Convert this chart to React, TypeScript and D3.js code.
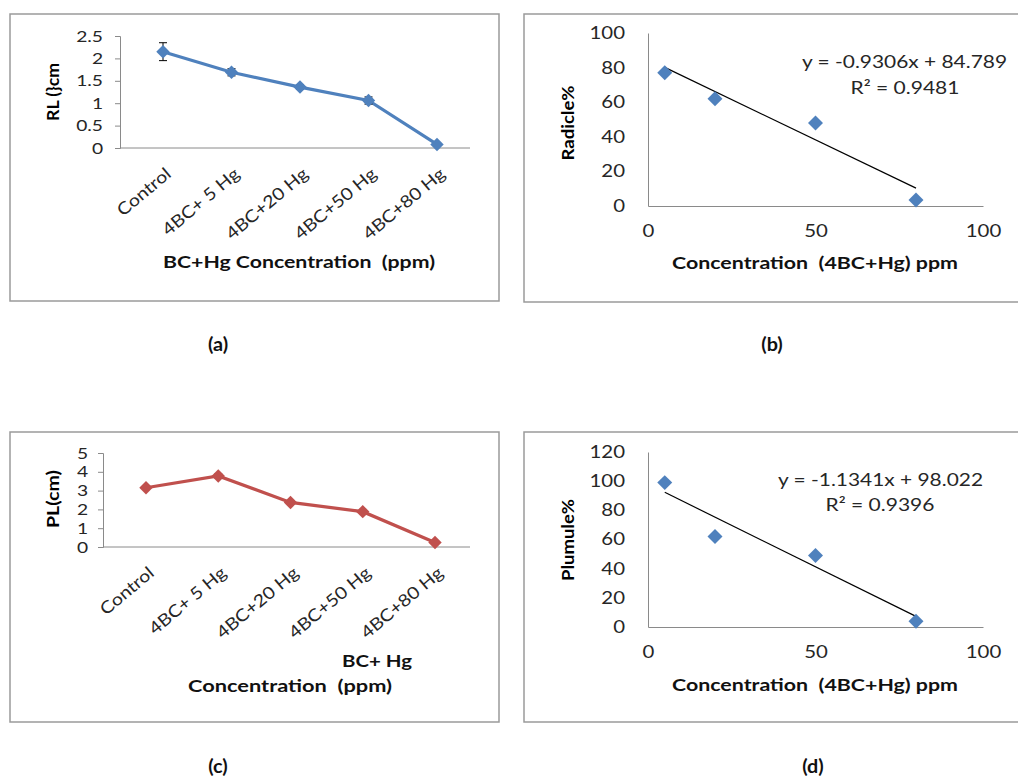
import React, { useEffect, useRef } from 'react';
import * as d3 from 'd3';

// treatments shared by the line panels
const categories = ['Control', '4BC+ 5 Hg', '4BC+20 Hg', '4BC+50 Hg', '4BC+80 Hg'];

// (a) radicle length, cm
const rlValues = [2.15, 1.69, 1.36, 1.06, 0.08];
const rlErrors = [0.2, 0.08, 0.05, 0.08, 0.03];
const rlTicks = [0, 0.5, 1, 1.5, 2, 2.5];

// (c) plumule length, cm
const plValues = [3.15, 3.78, 2.37, 1.88, 0.24];
const plErrors = [0.08, 0.1, 0.06, 0.06, 0.05];
const plTicks = [0, 1, 2, 3, 4, 5];

// (b) / (d) scatter: Hg concentration vs inhibition %
const concentrations = [5, 20, 50, 80];
const radiclePct = [77, 62, 48, 3.5];
const plumulePct = [99, 62, 49, 4];
const xTicks = [0, 50, 100];
const radicleTicks = [0, 20, 40, 60, 80, 100];
const plumuleTicks = [0, 20, 40, 60, 80, 100, 120];
const radicleFit = { slope: -0.9306, intercept: 84.789, r2: '0.9481' };
const plumuleFit = { slope: -1.1341, intercept: 98.022, r2: '0.9396' };

const FONT = 'Lato, "Liberation Sans", sans-serif';
const TEXT = '#262626';
const AXIS = '#8a8a8a';

// widen text like the stretched original (calibri-ish, wider than lato)
function stretch(sel, sx, target?) {
    sel.each(function () {
        const len = target || this.getComputedTextLength() * sx;
        d3.select(this).attr('textLength', len).attr('lengthAdjust', 'spacingAndGlyphs');
    });
}

function label(g, x, y, str, size, bold, anchor) {
    return g.append('text').attr('x', x).attr('y', y).attr('text-anchor', anchor || 'middle')
        .attr('font-family', FONT).attr('font-weight', bold ? 'bold' : 'normal')
        .attr('font-size', size).attr('fill', bold ? '#111' : TEXT)
        .style('white-space', 'pre').text(str);
}

function diamond(g, x, y, size, color) {
    g.append('path')
        .attr('d', d3.symbol(d3.symbolSquare, size)())
        .attr('transform', 'translate(' + x + ',' + y + ') rotate(45)')
        .attr('fill', color);
}

function drawLinePanel(svg, o) {
    const g = svg.append('g');
    g.append('rect').attr('x', o.box[0]).attr('y', o.box[1])
        .attr('width', o.box[2]).attr('height', o.box[3])
        .attr('fill', 'none').attr('stroke', '#9a9a9a').attr('stroke-width', 1.5);

    const x = d3.scalePoint().domain(categories).range(o.xRange);
    const y = d3.scaleLinear().domain(o.yDomain).range(o.yRange);

    g.append('line').attr('x1', o.axisX).attr('x2', o.axisEnd)
        .attr('y1', y(0)).attr('y2', y(0)).attr('stroke', AXIS);

    const ya = g.append('g').attr('transform', 'translate(' + o.axisX + ',0)')
        .call(d3.axisLeft(y).tickValues(o.ticks).tickSize(5).tickPadding(o.pad).tickFormat(d => String(d)));
    ya.selectAll('path,line').attr('stroke', AXIS);
    ya.selectAll('text').attr('font-family', FONT).attr('font-size', 16).attr('fill', TEXT);
    stretch(ya.selectAll('text'), 1.2);

    categories.forEach(c => {
        const t = g.append('text')
            .attr('transform', 'translate(' + (x(c) + 1) + ',' + (y(0) + 18) + ') rotate(-40)')
            .attr('text-anchor', 'end').attr('dy', '0.75em')
            .attr('font-family', FONT).attr('font-size', 17).attr('fill', TEXT)
            .text(c);
        stretch(t, 1.15);
    });

    const line = d3.line().x((d, i) => x(categories[i])).y(d => y(d));
    g.append('path').datum(o.values).attr('d', line)
        .attr('fill', 'none').attr('stroke', o.color).attr('stroke-width', 3.2);

    o.values.forEach((v, i) => {
        const cx = x(categories[i]);
        const e = o.errors[i];
        g.append('line').attr('x1', cx).attr('x2', cx).attr('y1', y(v - e)).attr('y2', y(v + e)).attr('stroke', '#000');
        [v - e, v + e].forEach(t => {
            g.append('line').attr('x1', cx - 4).attr('x2', cx + 4).attr('y1', y(t)).attr('y2', y(t)).attr('stroke', '#000');
        });
        diamond(g, cx, y(v), 90, o.color);
    });

    const yt = g.append('text')
        .attr('transform', 'translate(' + o.yTitle[0] + ',' + o.yTitle[1] + ') rotate(-90)')
        .attr('text-anchor', 'middle').attr('font-family', FONT).attr('font-weight', 'bold')
        .attr('font-size', 17).attr('fill', '#000').text(o.yLabel);
    stretch(yt, 1, o.yTitle[2]);

    o.xTitles.forEach(t => {
        stretch(label(g, t[0], t[1], t[2], 17.5, true), 1, t[3]);
    });
}

function drawScatterPanel(svg, o) {
    const g = svg.append('g');
    g.append('rect').attr('x', o.box[0]).attr('y', o.box[1])
        .attr('width', o.box[2]).attr('height', o.box[3])
        .attr('fill', 'none').attr('stroke', '#9a9a9a').attr('stroke-width', 1.5);

    const x = d3.scaleLinear().domain([0, 100]).range([648, 983]);
    const y = d3.scaleLinear().domain(o.yDomain).range(o.yRange);

    const ya = g.append('g').attr('transform', 'translate(648,0)')
        .call(d3.axisLeft(y).tickValues(o.ticks).tickSize(0).tickPadding(23));
    ya.selectAll('path').attr('stroke', AXIS);
    ya.selectAll('text').attr('font-family', FONT).attr('font-size', 17).attr('fill', TEXT);
    stretch(ya.selectAll('text'), 1.2);

    const xa = g.append('g').attr('transform', 'translate(0,' + y(0) + ')')
        .call(d3.axisBottom(x).tickValues(xTicks).tickSize(0).tickPadding(19));
    xa.selectAll('path').attr('stroke', AXIS);
    xa.selectAll('text').attr('font-family', FONT).attr('font-size', 17).attr('fill', TEXT);
    stretch(xa.selectAll('text'), 1.2);

    const x0 = d3.min(concentrations), x1 = d3.max(concentrations);
    g.append('line')
        .attr('x1', x(x0)).attr('y1', y(o.fit.slope * x0 + o.fit.intercept))
        .attr('x2', x(x1)).attr('y2', y(o.fit.slope * x1 + o.fit.intercept))
        .attr('stroke', '#000').attr('stroke-width', 1.2);

    o.values.forEach((v, i) => diamond(g, x(concentrations[i]), y(v), 112, '#4f81bd'));

    const sign = o.fit.slope < 0 ? '-' : '';
    stretch(label(g, o.eq[0], o.eq[1], 'y = ' + sign + Math.abs(o.fit.slope) + 'x + ' + o.fit.intercept, 17.5, false, 'end'), 1, o.eq[2]);
    stretch(label(g, o.r2[0], o.r2[1], 'R² = ' + o.fit.r2, 17.5, false), 1.2);

    const yt = g.append('text')
        .attr('transform', 'translate(' + 574 + ',' + o.yTitleY + ') rotate(-90)')
        .attr('text-anchor', 'middle').attr('font-family', FONT).attr('font-weight', 'bold')
        .attr('font-size', 17).attr('fill', '#000').text(o.yLabel);
    stretch(yt, 1, o.yTitleLen);

    stretch(label(g, 815, o.xTitleY, 'Concentration  (4BC+Hg) ppm', 17.5, true), 1, 286);
}

export default function App() {
    const ref = useRef(null);

    useEffect(() => {
        document.body.style.margin = '0';
        const svg = d3.select(ref.current);
        svg.selectAll('*').remove();

        drawLinePanel(svg, {
            box: [10, 14, 489, 287], xRange: [163, 437], yDomain: [0, 2.5], yRange: [148, 36],
            axisX: 120, axisEnd: 470, ticks: rlTicks, pad: 12,
            values: rlValues, errors: rlErrors, color: '#4f81bd',
            yTitle: [59, 92, 58], yLabel: 'RL (}cm',
            xTitles: [[299, 268, 'BC+Hg Concentration  (ppm)', 272]]
        });

        drawScatterPanel(svg, {
            box: [524, 14, 500, 288], yDomain: [0, 100], yRange: [206, 33], ticks: radicleTicks,
            values: radiclePct, fit: radicleFit, eq: [1007, 68, 205], r2: [905, 94],
            yLabel: 'Radicle%', yTitleY: 123, yTitleLen: 75, xTitleY: 269
        });

        drawLinePanel(svg, {
            box: [10, 432, 489, 290], xRange: [146, 435], yDomain: [0, 5], yRange: [547, 453],
            axisX: 103, axisEnd: 470, ticks: plTicks, pad: 10,
            values: plValues, errors: plErrors, color: '#c0504d',
            yTitle: [59, 499, 58], yLabel: 'PL(cm)',
            xTitles: [[377, 667, 'BC+ Hg', 70], [290, 692, 'Concentration  (ppm)', 204]]
        });

        drawScatterPanel(svg, {
            box: [524, 432, 500, 290], yDomain: [0, 120], yRange: [627, 452], ticks: plumuleTicks,
            values: plumulePct, fit: plumuleFit, eq: [983, 486, 205], r2: [880, 511],
            yLabel: 'Plumule%', yTitleY: 540, yTitleLen: 82, xTitleY: 691
        });

        [['(a)', 218, 351], ['(b)', 772, 351], ['(c)', 218, 773], ['(d)', 813, 773]].forEach(l => {
            stretch(label(svg, l[1], l[2], l[0], 18, true), 1.1);
        });
    }, []);

    return <svg ref={ref} width={1018} height={778} style={{ display: 'block', background: '#fff' }} />;
}
